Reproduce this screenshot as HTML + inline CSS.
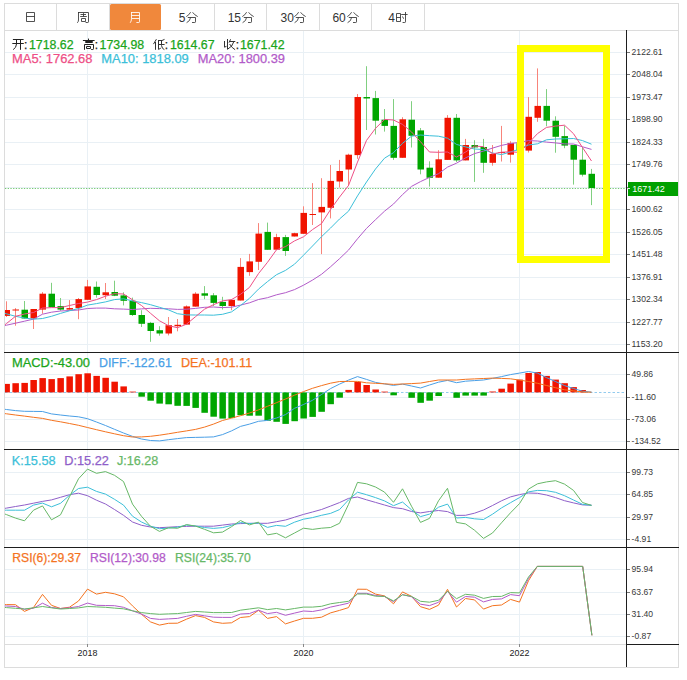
<!DOCTYPE html><html><head><meta charset="utf-8"><style>html,body{margin:0;padding:0;background:#fff;width:687px;height:680px;overflow:hidden}svg{display:block}</style></head><body><svg width="687" height="680" viewBox="0 0 687 680"><rect x="0" y="0" width="687" height="680" fill="#fff"/>
<path d="M5 52.5H626 M5 74.5H626 M5 97.5H626 M5 119.5H626 M5 142.5H626 M5 164.5H626 M5 187.5H626 M5 209.5H626 M5 232.5H626 M5 254.5H626 M5 277.5H626 M5 299.5H626 M5 322.5H626 M5 344.5H626 M5 374.5H626 M5 397.5H626 M5 419.5H626 M5 441.5H626 M5 472.5H626 M5 494.5H626 M5 517.5H626 M5 539.5H626 M5 569.5H626 M5 592.5H626 M5 614.5H626 M5 636.5H626 M87.5 31V644 M303.5 31V644 M519.5 31V644" stroke="#e9f0f5" stroke-width="1" fill="none"/>
<rect x="110" y="4" width="51" height="26" rx="1.5" fill="#f0883c"/>
<path d="M4 3.5H679 M4.5 3V668 M678.5 3V668 M4 667.5H679 M4 30.5H679 M56.5 3V30 M109.5 3V30 M214.5 3V30 M266.5 3V30 M319.5 3V30 M371.5 3V30 M424.5 3V30 M5 644.5H626" stroke="#dcdcdc" stroke-width="1" fill="none"/>
<defs><clipPath id="cp"><rect x="5" y="31" width="621" height="321"/></clipPath><clipPath id="cm"><rect x="5" y="353" width="621" height="96"/></clipPath><clipPath id="ck"><rect x="5" y="450" width="621" height="97"/></clipPath><clipPath id="cr"><rect x="5" y="548" width="621" height="96"/></clipPath></defs>
<path d="M5 188.5H626" stroke="#5cc05c" stroke-width="1" stroke-dasharray="1.3 1.4" fill="none" opacity="0.85"/>
<g clip-path="url(#cp)">
<rect x="6" y="301.3" width="1" height="15.6" fill="#f8847a"/>
<rect x="3.5" y="310.0" width="6.5" height="5.9" fill="#f01400"/>
<rect x="15" y="308.1" width="1" height="17.6" fill="#f8847a"/>
<rect x="12.5" y="309.5" width="6.5" height="1.0" fill="#f01400"/>
<rect x="24" y="301.0" width="1" height="17.5" fill="#80cf80"/>
<rect x="21.5" y="309.7" width="6.5" height="8.8" fill="#00a600"/>
<rect x="33" y="309.0" width="1" height="20.0" fill="#f8847a"/>
<rect x="30.5" y="309.0" width="6.5" height="9.5" fill="#f01400"/>
<rect x="42" y="292.1" width="1" height="21.6" fill="#f8847a"/>
<rect x="39.5" y="293.7" width="6.5" height="15.9" fill="#f01400"/>
<rect x="51" y="282.8" width="1" height="24.3" fill="#80cf80"/>
<rect x="48.5" y="293.7" width="6.5" height="13.4" fill="#00a600"/>
<rect x="60" y="298.0" width="1" height="12.8" fill="#80cf80"/>
<rect x="57.5" y="306.1" width="6.5" height="3.5" fill="#00a600"/>
<rect x="69" y="300.1" width="1" height="9.5" fill="#f8847a"/>
<rect x="66.5" y="308.1" width="6.5" height="1.5" fill="#f01400"/>
<rect x="78" y="298.0" width="1" height="21.2" fill="#f8847a"/>
<rect x="75.5" y="299.1" width="6.5" height="9.0" fill="#f01400"/>
<rect x="87" y="279.9" width="1" height="19.9" fill="#f8847a"/>
<rect x="84.5" y="286.4" width="6.5" height="13.4" fill="#f01400"/>
<rect x="96" y="281.5" width="1" height="16.1" fill="#80cf80"/>
<rect x="93.5" y="286.8" width="6.5" height="8.2" fill="#00a600"/>
<rect x="105" y="283.0" width="1" height="16.0" fill="#f8847a"/>
<rect x="102.5" y="292.3" width="6.5" height="2.9" fill="#f01400"/>
<rect x="114" y="280.7" width="1" height="15.4" fill="#80cf80"/>
<rect x="111.5" y="292.0" width="6.5" height="3.7" fill="#00a600"/>
<rect x="123" y="292.3" width="1" height="13.1" fill="#80cf80"/>
<rect x="120.5" y="295.4" width="6.5" height="5.4" fill="#00a600"/>
<rect x="132" y="297.6" width="1" height="18.4" fill="#80cf80"/>
<rect x="129.5" y="300.8" width="6.5" height="14.2" fill="#00a600"/>
<rect x="141" y="310.2" width="1" height="16.8" fill="#80cf80"/>
<rect x="138.5" y="315.0" width="6.5" height="8.8" fill="#00a600"/>
<rect x="150" y="321.9" width="1" height="19.9" fill="#80cf80"/>
<rect x="147.5" y="322.9" width="6.5" height="8.1" fill="#00a600"/>
<rect x="159" y="326.2" width="1" height="9.5" fill="#80cf80"/>
<rect x="156.5" y="330.2" width="6.5" height="3.3" fill="#00a600"/>
<rect x="168" y="317.0" width="1" height="18.4" fill="#f8847a"/>
<rect x="165.5" y="325.2" width="6.5" height="8.3" fill="#f01400"/>
<rect x="177" y="319.0" width="1" height="12.3" fill="#f8847a"/>
<rect x="174.5" y="324.8" width="6.5" height="1.4" fill="#f01400"/>
<rect x="186" y="305.4" width="1" height="19.2" fill="#f8847a"/>
<rect x="183.5" y="306.4" width="6.5" height="18.2" fill="#f01400"/>
<rect x="195" y="292.2" width="1" height="14.4" fill="#f8847a"/>
<rect x="192.5" y="293.7" width="6.5" height="12.9" fill="#f01400"/>
<rect x="204" y="286.1" width="1" height="13.1" fill="#80cf80"/>
<rect x="201.5" y="293.3" width="6.5" height="2.4" fill="#00a600"/>
<rect x="213" y="293.1" width="1" height="12.9" fill="#80cf80"/>
<rect x="210.5" y="295.3" width="6.5" height="7.6" fill="#00a600"/>
<rect x="222" y="296.8" width="1" height="12.7" fill="#80cf80"/>
<rect x="219.5" y="301.9" width="6.5" height="4.1" fill="#00a600"/>
<rect x="231" y="299.2" width="1" height="11.0" fill="#f8847a"/>
<rect x="228.5" y="299.9" width="6.5" height="6.1" fill="#f01400"/>
<rect x="240" y="258.1" width="1" height="42.4" fill="#f8847a"/>
<rect x="237.5" y="266.9" width="6.5" height="33.6" fill="#f01400"/>
<rect x="249" y="253.9" width="1" height="21.9" fill="#f8847a"/>
<rect x="246.5" y="261.4" width="6.5" height="10.7" fill="#f01400"/>
<rect x="258" y="223.1" width="1" height="46.9" fill="#f8847a"/>
<rect x="255.5" y="233.6" width="6.5" height="28.2" fill="#f01400"/>
<rect x="267" y="222.6" width="1" height="27.2" fill="#80cf80"/>
<rect x="264.5" y="231.9" width="6.5" height="17.9" fill="#00a600"/>
<rect x="276" y="233.8" width="1" height="15.9" fill="#f8847a"/>
<rect x="273.5" y="237.1" width="6.5" height="12.6" fill="#f01400"/>
<rect x="285" y="234.9" width="1" height="21.0" fill="#80cf80"/>
<rect x="282.5" y="237.1" width="6.5" height="13.9" fill="#00a600"/>
<rect x="294" y="232.7" width="1" height="3.8" fill="#f8847a"/>
<rect x="291.5" y="233.2" width="6.5" height="3.3" fill="#f01400"/>
<rect x="303" y="206.3" width="1" height="27.5" fill="#f8847a"/>
<rect x="300.5" y="212.9" width="6.5" height="20.9" fill="#f01400"/>
<rect x="312" y="183.1" width="1" height="41.9" fill="#f8847a"/>
<rect x="309.5" y="214.0" width="6.5" height="1.0" fill="#f01400"/>
<rect x="321" y="178.2" width="1" height="75.9" fill="#f8847a"/>
<rect x="318.5" y="206.9" width="6.5" height="5.5" fill="#f01400"/>
<rect x="330" y="165.0" width="1" height="53.4" fill="#f8847a"/>
<rect x="327.5" y="180.9" width="6.5" height="26.9" fill="#f01400"/>
<rect x="339" y="159.9" width="1" height="27.6" fill="#f8847a"/>
<rect x="336.5" y="171.0" width="6.5" height="10.5" fill="#f01400"/>
<rect x="348" y="153.7" width="1" height="32.3" fill="#f8847a"/>
<rect x="345.5" y="154.7" width="6.5" height="14.8" fill="#f01400"/>
<rect x="357" y="94.0" width="1" height="64.8" fill="#f8847a"/>
<rect x="354.5" y="97.0" width="6.5" height="58.1" fill="#f01400"/>
<rect x="366" y="66.2" width="1" height="63.8" fill="#80cf80"/>
<rect x="363.5" y="97.0" width="6.5" height="1.5" fill="#00a600"/>
<rect x="375" y="90.9" width="1" height="43.6" fill="#80cf80"/>
<rect x="372.5" y="98.1" width="6.5" height="22.6" fill="#00a600"/>
<rect x="384" y="109.0" width="1" height="22.6" fill="#80cf80"/>
<rect x="381.5" y="119.7" width="6.5" height="6.2" fill="#00a600"/>
<rect x="393" y="99.1" width="1" height="60.8" fill="#80cf80"/>
<rect x="390.5" y="125.9" width="6.5" height="31.9" fill="#00a600"/>
<rect x="402" y="117.2" width="1" height="40.6" fill="#f8847a"/>
<rect x="399.5" y="119.3" width="6.5" height="38.5" fill="#f01400"/>
<rect x="411" y="101.2" width="1" height="46.3" fill="#80cf80"/>
<rect x="408.5" y="119.7" width="6.5" height="16.1" fill="#00a600"/>
<rect x="420" y="128.0" width="1" height="46.3" fill="#80cf80"/>
<rect x="417.5" y="130.4" width="6.5" height="39.1" fill="#00a600"/>
<rect x="429" y="161.3" width="1" height="25.3" fill="#80cf80"/>
<rect x="426.5" y="167.7" width="6.5" height="10.1" fill="#00a600"/>
<rect x="438" y="150.2" width="1" height="27.5" fill="#f8847a"/>
<rect x="435.5" y="159.3" width="6.5" height="18.4" fill="#f01400"/>
<rect x="447" y="115.1" width="1" height="44.8" fill="#f8847a"/>
<rect x="444.5" y="117.8" width="6.5" height="42.1" fill="#f01400"/>
<rect x="456" y="114.0" width="1" height="48.0" fill="#80cf80"/>
<rect x="453.5" y="117.8" width="6.5" height="42.6" fill="#00a600"/>
<rect x="465" y="138.9" width="1" height="21.5" fill="#f8847a"/>
<rect x="462.5" y="145.0" width="6.5" height="15.4" fill="#f01400"/>
<rect x="474" y="140.2" width="1" height="41.7" fill="#80cf80"/>
<rect x="471.5" y="145.0" width="6.5" height="2.4" fill="#00a600"/>
<rect x="483" y="138.9" width="1" height="33.9" fill="#80cf80"/>
<rect x="480.5" y="147.0" width="6.5" height="15.8" fill="#00a600"/>
<rect x="492" y="145.0" width="1" height="20.7" fill="#f8847a"/>
<rect x="489.5" y="153.9" width="6.5" height="8.9" fill="#f01400"/>
<rect x="501" y="125.9" width="1" height="35.6" fill="#f8847a"/>
<rect x="498.5" y="152.0" width="6.5" height="1.0" fill="#f01400"/>
<rect x="510" y="141.2" width="1" height="21.4" fill="#f8847a"/>
<rect x="507.5" y="142.9" width="6.5" height="11.8" fill="#f01400"/>
<rect x="519" y="143.2" width="1" height="7.3" fill="#80cf80"/>
<rect x="516.5" y="143.2" width="6.5" height="7.3" fill="#00a600"/>
<rect x="528" y="97.1" width="1" height="55.4" fill="#f8847a"/>
<rect x="525.5" y="116.8" width="6.5" height="33.8" fill="#f01400"/>
<rect x="537" y="68.4" width="1" height="53.4" fill="#f8847a"/>
<rect x="534.5" y="105.9" width="6.5" height="11.9" fill="#f01400"/>
<rect x="546" y="89.1" width="1" height="37.1" fill="#80cf80"/>
<rect x="543.5" y="105.9" width="6.5" height="14.8" fill="#00a600"/>
<rect x="555" y="116.3" width="1" height="36.4" fill="#80cf80"/>
<rect x="552.5" y="120.7" width="6.5" height="16.1" fill="#00a600"/>
<rect x="564" y="125.7" width="1" height="22.5" fill="#80cf80"/>
<rect x="561.5" y="136.1" width="6.5" height="9.5" fill="#00a600"/>
<rect x="573" y="145.0" width="1" height="39.6" fill="#80cf80"/>
<rect x="570.5" y="144.9" width="6.5" height="14.8" fill="#00a600"/>
<rect x="582" y="147.1" width="1" height="29.4" fill="#80cf80"/>
<rect x="579.5" y="159.7" width="6.5" height="15.0" fill="#00a600"/>
<rect x="591" y="168.9" width="1" height="36.2" fill="#80cf80"/>
<rect x="588.5" y="173.8" width="6.5" height="14.2" fill="#00a600"/>
<polyline points="4.0,325.7 6.5,325.2 15.5,323.2 24.5,321.2 33.5,319.1 42.5,314.2 51.5,312.2 60.5,311.0 69.5,310.5 78.5,310.0 87.5,308.5 96.5,308.1 105.5,308.1 114.5,308.8 123.5,309.1 132.5,309.5 141.5,308.9 150.5,308.3 159.5,308.6 168.5,308.8 177.5,309.4 186.5,309.2 195.5,308.4 204.5,307.3 213.5,307.0 222.5,307.6 231.5,307.2 240.5,305.1 249.5,302.8 258.5,299.5 267.5,297.7 276.5,294.8 285.5,292.7 294.5,289.6 303.5,285.2 312.5,280.1 321.5,274.3 330.5,266.8 339.5,258.7 348.5,250.1 357.5,238.8 366.5,228.4 375.5,219.7 384.5,211.2 393.5,204.0 402.5,194.6 411.5,186.4 420.5,181.6 429.5,177.4 438.5,173.7 447.5,167.1 456.5,163.2 465.5,157.9 474.5,153.6 483.5,151.1 492.5,148.1 501.5,145.4 510.5,143.5 519.5,142.4 528.5,140.6 537.5,141.0 546.5,142.1 555.5,142.9 564.5,143.9 573.5,144.0 582.5,146.8 591.5,149.4" fill="none" stroke="#b25bc9" stroke-width="1.0" stroke-linejoin="round" />
<polyline points="4.0,313.0 6.5,313.8 15.5,316.3 24.5,318.0 33.5,319.2 42.5,318.5 51.5,316.3 60.5,313.4 69.5,310.8 78.5,308.5 87.5,305.1 96.5,303.6 105.5,301.9 114.5,299.6 123.5,298.8 132.5,300.9 141.5,302.6 150.5,304.7 159.5,307.3 168.5,309.9 177.5,313.7 186.5,314.9 195.5,315.0 204.5,315.0 213.5,315.2 222.5,314.3 231.5,311.9 240.5,305.5 249.5,298.3 258.5,289.1 267.5,281.6 276.5,274.7 285.5,270.4 294.5,264.2 303.5,255.2 312.5,246.0 321.5,236.7 330.5,228.1 339.5,219.0 348.5,211.2 357.5,195.9 366.5,182.0 375.5,169.0 384.5,158.2 393.5,152.7 402.5,143.3 411.5,136.2 420.5,135.0 429.5,135.7 438.5,136.2 447.5,138.2 456.5,144.4 465.5,146.9 474.5,149.0 483.5,149.5 492.5,153.0 501.5,154.6 510.5,151.9 519.5,149.2 528.5,145.0 537.5,143.8 546.5,139.8 555.5,139.0 564.5,138.8 573.5,138.5 582.5,140.6 591.5,144.2" fill="none" stroke="#3cbfd9" stroke-width="1.0" stroke-linejoin="round" />
<polyline points="4.0,325.5 6.5,323.5 15.5,316.3 24.5,314.0 33.5,312.5 42.5,308.1 51.5,307.6 60.5,307.6 69.5,305.5 78.5,303.5 87.5,302.1 96.5,299.6 105.5,296.2 114.5,293.7 123.5,294.0 132.5,299.8 141.5,305.5 150.5,313.3 159.5,320.8 168.5,325.7 177.5,327.7 186.5,324.2 195.5,316.7 204.5,309.2 213.5,304.7 222.5,300.9 231.5,299.6 240.5,294.3 249.5,287.4 258.5,273.6 267.5,262.3 276.5,249.8 285.5,246.6 294.5,240.9 303.5,236.8 312.5,229.6 321.5,223.6 330.5,209.6 339.5,197.1 348.5,185.5 357.5,162.1 366.5,140.4 375.5,128.4 384.5,119.4 393.5,120.0 402.5,124.4 411.5,131.9 420.5,141.7 429.5,152.0 438.5,152.3 447.5,152.0 456.5,157.0 465.5,152.1 474.5,146.0 483.5,146.7 492.5,153.9 501.5,152.2 510.5,151.8 519.5,152.4 528.5,143.2 537.5,133.6 546.5,127.4 555.5,126.1 564.5,125.2 573.5,133.7 582.5,147.5 591.5,161.0" fill="none" stroke="#ee4f86" stroke-width="1.0" stroke-linejoin="round" />
</g>
<g clip-path="url(#cm)">
<path d="M5 392.5H624" stroke="#92cbee" stroke-width="1" stroke-dasharray="2.5 2" fill="none"/>
<rect x="3.4" y="383.9" width="6.5" height="8.5" fill="#f01400"/>
<rect x="12.4" y="383.2" width="6.5" height="9.2" fill="#f01400"/>
<rect x="21.4" y="382.9" width="6.5" height="9.5" fill="#f01400"/>
<rect x="30.4" y="380.0" width="6.5" height="12.4" fill="#f01400"/>
<rect x="39.4" y="378.1" width="6.5" height="14.3" fill="#f01400"/>
<rect x="48.4" y="379.1" width="6.5" height="13.3" fill="#f01400"/>
<rect x="57.4" y="378.1" width="6.5" height="14.3" fill="#f01400"/>
<rect x="66.4" y="376.4" width="6.5" height="16.0" fill="#f01400"/>
<rect x="75.4" y="374.2" width="6.5" height="18.2" fill="#f01400"/>
<rect x="84.4" y="373.3" width="6.5" height="19.1" fill="#f01400"/>
<rect x="93.4" y="375.9" width="6.5" height="16.5" fill="#f01400"/>
<rect x="102.4" y="377.8" width="6.5" height="14.6" fill="#f01400"/>
<rect x="111.4" y="381.7" width="6.5" height="10.7" fill="#f01400"/>
<rect x="120.4" y="386.4" width="6.5" height="6.0" fill="#f01400"/>
<rect x="129.4" y="391.6" width="6.5" height="0.8" fill="#f01400"/>
<rect x="138.4" y="392.4" width="6.5" height="4.3" fill="#00a600"/>
<rect x="147.4" y="392.4" width="6.5" height="8.3" fill="#00a600"/>
<rect x="156.4" y="392.4" width="6.5" height="11.2" fill="#00a600"/>
<rect x="165.4" y="392.4" width="6.5" height="11.9" fill="#00a600"/>
<rect x="174.4" y="392.4" width="6.5" height="13.4" fill="#00a600"/>
<rect x="183.4" y="392.4" width="6.5" height="13.5" fill="#00a600"/>
<rect x="192.4" y="392.4" width="6.5" height="15.5" fill="#00a600"/>
<rect x="201.4" y="392.4" width="6.5" height="20.4" fill="#00a600"/>
<rect x="210.4" y="392.4" width="6.5" height="24.3" fill="#00a600"/>
<rect x="219.4" y="392.4" width="6.5" height="26.2" fill="#00a600"/>
<rect x="228.4" y="392.4" width="6.5" height="25.7" fill="#00a600"/>
<rect x="237.4" y="392.4" width="6.5" height="22.8" fill="#00a600"/>
<rect x="246.4" y="392.4" width="6.5" height="23.3" fill="#00a600"/>
<rect x="255.4" y="392.4" width="6.5" height="23.3" fill="#00a600"/>
<rect x="264.4" y="392.4" width="6.5" height="28.4" fill="#00a600"/>
<rect x="273.4" y="392.4" width="6.5" height="29.4" fill="#00a600"/>
<rect x="282.4" y="392.4" width="6.5" height="31.5" fill="#00a600"/>
<rect x="291.4" y="392.4" width="6.5" height="28.8" fill="#00a600"/>
<rect x="300.4" y="392.4" width="6.5" height="26.1" fill="#00a600"/>
<rect x="309.4" y="392.4" width="6.5" height="24.5" fill="#00a600"/>
<rect x="318.4" y="392.4" width="6.5" height="19.4" fill="#00a600"/>
<rect x="327.4" y="392.4" width="6.5" height="11.8" fill="#00a600"/>
<rect x="336.4" y="392.4" width="6.5" height="5.3" fill="#00a600"/>
<rect x="345.4" y="389.9" width="6.5" height="2.5" fill="#f01400"/>
<rect x="354.4" y="381.9" width="6.5" height="10.5" fill="#f01400"/>
<rect x="363.4" y="385.0" width="6.5" height="7.4" fill="#f01400"/>
<rect x="372.4" y="389.5" width="6.5" height="2.9" fill="#f01400"/>
<rect x="381.4" y="391.6" width="6.5" height="0.8" fill="#f01400"/>
<rect x="390.4" y="392.4" width="6.5" height="2.9" fill="#00a600"/>
<rect x="408.4" y="392.4" width="6.5" height="5.4" fill="#00a600"/>
<rect x="417.4" y="392.4" width="6.5" height="10.4" fill="#00a600"/>
<rect x="426.4" y="392.4" width="6.5" height="8.3" fill="#00a600"/>
<rect x="435.4" y="392.4" width="6.5" height="3.6" fill="#00a600"/>
<rect x="453.4" y="392.4" width="6.5" height="5.4" fill="#00a600"/>
<rect x="462.4" y="392.4" width="6.5" height="3.2" fill="#00a600"/>
<rect x="471.4" y="392.4" width="6.5" height="3.2" fill="#00a600"/>
<rect x="480.4" y="392.4" width="6.5" height="3.2" fill="#00a600"/>
<rect x="489.4" y="391.5" width="6.5" height="0.9" fill="#f01400"/>
<rect x="498.4" y="388.7" width="6.5" height="3.7" fill="#f01400"/>
<rect x="507.4" y="383.6" width="6.5" height="8.8" fill="#f01400"/>
<rect x="516.4" y="379.6" width="6.5" height="12.8" fill="#f01400"/>
<rect x="525.4" y="373.0" width="6.5" height="19.4" fill="#f01400"/>
<rect x="534.4" y="372.0" width="6.5" height="20.4" fill="#f01400"/>
<rect x="543.4" y="375.9" width="6.5" height="16.5" fill="#f01400"/>
<rect x="552.4" y="379.6" width="6.5" height="12.8" fill="#f01400"/>
<rect x="561.4" y="383.2" width="6.5" height="9.2" fill="#f01400"/>
<rect x="570.4" y="387.1" width="6.5" height="5.3" fill="#f01400"/>
<rect x="579.4" y="390.0" width="6.5" height="2.4" fill="#f01400"/>
<polyline points="4.0,409.2 6.5,409.5 15.5,410.6 24.5,411.3 33.5,411.4 42.5,411.5 51.5,413.9 60.5,415.0 69.5,416.0 78.5,416.8 87.5,418.7 96.5,422.0 105.5,425.5 114.5,429.3 123.5,433.0 132.5,436.4 141.5,439.0 150.5,440.5 159.5,440.9 168.5,439.7 177.5,438.6 186.5,437.6 195.5,437.4 204.5,437.2 213.5,436.9 222.5,434.6 231.5,430.9 240.5,426.4 249.5,424.1 258.5,421.3 267.5,420.4 276.5,418.0 285.5,414.6 294.5,408.3 303.5,404.5 312.5,400.3 321.5,394.5 330.5,388.6 339.5,384.1 348.5,380.1 357.5,376.6 366.5,379.4 375.5,382.4 384.5,383.9 393.5,385.4 402.5,384.1 411.5,386.0 420.5,388.0 429.5,385.0 438.5,382.2 447.5,380.4 456.5,382.7 465.5,381.2 474.5,380.6 483.5,380.0 492.5,378.4 501.5,376.6 510.5,374.6 519.5,373.1 528.5,371.5 537.5,373.1 546.5,377.6 555.5,381.5 564.5,385.6 573.5,388.5 582.5,391.2 591.5,392.1" fill="none" stroke="#4a9fe6" stroke-width="1.0" stroke-linejoin="round" />
<polyline points="4.0,413.5 6.5,413.8 15.5,415.0 24.5,416.1 33.5,417.3 42.5,418.4 51.5,420.3 60.5,421.8 69.5,423.5 78.5,425.3 87.5,427.5 96.5,429.7 105.5,431.8 114.5,433.8 123.5,435.7 132.5,437.0 141.5,436.9 150.5,436.3 159.5,435.2 168.5,433.8 177.5,432.3 186.5,430.9 195.5,429.4 204.5,427.1 213.5,424.1 222.5,420.5 231.5,418.1 240.5,415.7 249.5,413.0 258.5,409.9 267.5,406.3 276.5,402.7 285.5,399.0 294.5,395.2 303.5,391.6 312.5,388.3 321.5,385.6 330.5,383.2 339.5,381.5 348.5,381.4 357.5,381.4 366.5,382.8 375.5,383.3 384.5,383.8 393.5,384.4 402.5,384.0 411.5,383.6 420.5,383.1 429.5,381.5 438.5,380.0 447.5,380.0 456.5,380.0 465.5,379.3 474.5,378.9 483.5,378.5 492.5,378.1 501.5,378.4 510.5,378.8 519.5,380.1 528.5,381.5 537.5,383.3 546.5,385.5 555.5,387.7 564.5,389.8 573.5,390.9 582.5,392.0 591.5,392.2" fill="none" stroke="#f4731f" stroke-width="1.0" stroke-linejoin="round" />
</g>
<g clip-path="url(#ck)">
<polyline points="4.0,508.5 6.5,508.1 15.5,506.5 24.5,505.0 33.5,503.2 42.5,501.4 51.5,499.9 60.5,497.3 69.5,494.7 78.5,493.2 87.5,495.7 96.5,500.2 105.5,504.0 114.5,509.5 123.5,515.3 132.5,522.0 141.5,525.3 150.5,527.0 159.5,527.7 168.5,527.2 177.5,526.7 186.5,526.4 195.5,526.2 204.5,526.2 213.5,526.2 222.5,525.1 231.5,524.0 240.5,523.6 249.5,523.3 258.5,523.3 267.5,523.3 276.5,521.7 285.5,520.0 294.5,517.2 303.5,514.4 312.5,512.0 321.5,509.5 330.5,506.1 339.5,502.6 348.5,498.4 357.5,497.0 366.5,499.8 375.5,502.4 384.5,505.0 393.5,507.6 402.5,508.7 411.5,511.5 420.5,512.9 429.5,511.5 438.5,510.5 447.5,511.6 456.5,515.4 465.5,515.3 474.5,513.2 483.5,510.0 492.5,505.5 501.5,500.8 510.5,496.9 519.5,494.6 528.5,493.0 537.5,493.3 546.5,495.0 555.5,497.6 564.5,500.7 573.5,502.9 582.5,504.9 591.5,505.2" fill="none" stroke="#8f5fc9" stroke-width="1.0" stroke-linejoin="round" />
<polyline points="4.0,510.2 6.5,510.2 15.5,510.2 24.5,510.2 33.5,505.1 42.5,503.1 51.5,506.8 60.5,503.3 69.5,495.3 78.5,488.5 87.5,487.2 96.5,491.4 105.5,494.1 114.5,499.3 123.5,505.1 132.5,516.2 141.5,522.0 150.5,526.2 159.5,528.7 168.5,528.1 177.5,527.2 186.5,525.0 195.5,526.0 204.5,527.5 213.5,528.4 222.5,527.6 231.5,525.4 240.5,522.6 249.5,523.6 258.5,523.0 267.5,527.4 276.5,525.4 285.5,526.3 294.5,522.2 303.5,519.2 312.5,517.6 321.5,515.3 330.5,513.4 339.5,509.6 348.5,499.9 357.5,492.2 366.5,494.7 375.5,497.6 384.5,500.9 393.5,505.7 402.5,502.0 411.5,509.8 420.5,516.6 429.5,514.1 438.5,507.2 447.5,504.1 456.5,518.0 465.5,517.4 474.5,518.8 483.5,519.5 492.5,514.2 501.5,507.9 510.5,502.7 519.5,497.6 528.5,491.9 537.5,490.4 546.5,490.7 555.5,492.3 564.5,495.7 573.5,500.0 582.5,504.3 591.5,505.3" fill="none" stroke="#3cbfd9" stroke-width="1.0" stroke-linejoin="round" />
<polyline points="4.0,513.7 6.5,514.6 15.5,518.1 24.5,520.8 33.5,510.2 42.5,505.9 51.5,519.8 60.5,514.8 69.5,496.8 78.5,478.8 87.5,469.1 96.5,473.3 105.5,471.6 114.5,475.3 123.5,481.5 132.5,504.1 141.5,516.3 150.5,526.3 159.5,531.4 168.5,527.7 177.5,528.3 186.5,524.6 195.5,526.1 204.5,529.3 213.5,532.8 222.5,532.1 231.5,526.7 240.5,520.5 249.5,524.9 258.5,522.1 267.5,534.9 276.5,533.3 285.5,537.8 294.5,533.0 303.5,528.2 312.5,529.4 321.5,528.2 330.5,527.5 339.5,523.3 348.5,504.4 357.5,482.4 366.5,483.8 375.5,487.0 384.5,492.1 393.5,502.3 402.5,488.8 411.5,506.2 420.5,522.4 429.5,518.4 438.5,500.8 447.5,488.3 456.5,522.4 465.5,523.9 474.5,530.2 483.5,538.4 492.5,533.0 501.5,522.8 510.5,512.8 519.5,503.6 528.5,489.1 537.5,483.8 546.5,481.9 555.5,480.7 564.5,484.1 573.5,490.4 582.5,502.5 591.5,505.4" fill="none" stroke="#67b867" stroke-width="1.0" stroke-linejoin="round" />
</g>
<g clip-path="url(#cr)">
<polyline points="4.0,604.6 6.5,604.6 15.5,604.7 24.5,611.4 33.5,607.5 42.5,594.4 51.5,605.3 60.5,608.5 69.5,607.2 78.5,601.0 87.5,589.1 96.5,594.1 105.5,592.3 114.5,593.8 123.5,596.8 132.5,605.9 141.5,614.3 150.5,621.9 159.5,625.1 168.5,623.3 177.5,623.2 186.5,619.2 195.5,615.6 204.5,617.4 213.5,621.9 222.5,623.3 231.5,622.8 240.5,617.5 249.5,616.6 258.5,610.3 267.5,618.4 276.5,616.6 285.5,623.9 294.5,621.0 303.5,618.3 312.5,618.3 321.5,617.2 330.5,612.9 339.5,610.4 348.5,607.6 357.5,589.2 366.5,589.3 375.5,594.1 384.5,595.9 393.5,603.8 402.5,591.9 411.5,596.3 420.5,606.7 429.5,609.4 438.5,605.2 447.5,589.3 456.5,607.0 465.5,598.5 474.5,599.9 483.5,609.1 492.5,605.7 501.5,605.0 510.5,599.4 519.5,602.1 528.5,580.7 537.3,566.4 582.7,566.4 591.9,635.3" fill="none" stroke="#f4731f" stroke-width="1.0" stroke-linejoin="round" />
<polyline points="4.0,605.9 6.5,606.0 15.5,606.5 24.5,609.3 33.5,608.2 42.5,603.2 51.5,607.5 60.5,608.5 69.5,607.8 78.5,606.5 87.5,603.1 96.5,605.3 105.5,605.5 114.5,605.7 123.5,607.3 132.5,610.8 141.5,614.1 150.5,618.4 159.5,619.4 168.5,618.9 177.5,618.4 186.5,616.3 195.5,614.4 204.5,615.8 213.5,617.2 222.5,617.4 231.5,617.4 240.5,614.0 249.5,613.5 258.5,610.2 267.5,613.6 276.5,612.3 285.5,615.3 294.5,613.1 303.5,611.0 312.5,611.5 321.5,609.9 330.5,607.1 339.5,605.2 348.5,603.2 357.5,593.3 366.5,593.3 375.5,595.5 384.5,596.5 393.5,601.7 402.5,594.6 411.5,596.8 420.5,604.2 429.5,605.6 438.5,602.3 447.5,591.3 456.5,602.2 465.5,596.5 474.5,597.2 483.5,601.9 492.5,599.4 501.5,598.9 510.5,594.6 519.5,595.7 528.5,578.5 537.3,566.4 582.7,566.4 591.9,635.3" fill="none" stroke="#b25bc9" stroke-width="1.0" stroke-linejoin="round" />
<polyline points="4.0,607.4 6.5,607.6 15.5,608.3 24.5,609.0 33.5,607.8 42.5,606.5 51.5,607.8 60.5,609.0 69.5,608.5 78.5,607.9 87.5,606.5 96.5,606.9 105.5,607.3 114.5,608.1 123.5,608.8 132.5,610.8 141.5,612.6 150.5,613.6 159.5,614.3 168.5,613.9 177.5,613.6 186.5,612.5 195.5,611.4 204.5,612.0 213.5,612.6 222.5,612.6 231.5,612.5 240.5,610.2 249.5,609.0 258.5,607.8 267.5,609.6 276.5,608.5 285.5,609.9 294.5,608.5 303.5,607.1 312.5,607.1 321.5,606.3 330.5,603.8 339.5,602.5 348.5,601.3 357.5,594.0 366.5,594.0 375.5,596.2 384.5,596.4 393.5,600.9 402.5,594.8 411.5,596.4 420.5,601.3 429.5,602.2 438.5,600.3 447.5,591.3 456.5,598.7 465.5,594.3 474.5,595.2 483.5,598.4 492.5,596.5 501.5,596.4 510.5,592.6 519.5,592.9 528.5,577.0 537.3,566.4 582.7,566.4 591.9,635.3" fill="none" stroke="#67b867" stroke-width="1.0" stroke-linejoin="round" />
</g>
<path d="M4 352.5H679 M4 449.5H679 M4 547.5H679 M626.5 30V667 M626 644.5H679" stroke="#1e1e1e" stroke-width="1" fill="none"/>
<path d="M87.5 644V647 M303.5 644V647 M519.5 644V647" stroke="#888" stroke-width="1"/>
<path d="M627 52.5H630 M627 74.5H630 M627 97.5H630 M627 119.5H630 M627 142.5H630 M627 164.5H630 M627 187.5H630 M627 209.5H630 M627 232.5H630 M627 254.5H630 M627 277.5H630 M627 299.5H630 M627 322.5H630 M627 344.5H630 M627 374.5H630 M627 397.5H630 M627 419.5H630 M627 441.5H630 M627 472.5H630 M627 494.5H630 M627 517.5H630 M627 539.5H630 M627 569.5H630 M627 592.5H630 M627 614.5H630 M627 636.5H630" stroke="#777" stroke-width="1"/>
<text x="631.6" y="55.3" font-family="Liberation Sans, sans-serif" font-size="9.8" fill="#383838" textLength="31.04" lengthAdjust="spacingAndGlyphs">2122.61</text>
<text x="631.6" y="77.3" font-family="Liberation Sans, sans-serif" font-size="9.8" fill="#383838" textLength="31.04" lengthAdjust="spacingAndGlyphs">2048.04</text>
<text x="631.6" y="100.3" font-family="Liberation Sans, sans-serif" font-size="9.8" fill="#383838" textLength="31.04" lengthAdjust="spacingAndGlyphs">1973.47</text>
<text x="631.6" y="122.3" font-family="Liberation Sans, sans-serif" font-size="9.8" fill="#383838" textLength="31.04" lengthAdjust="spacingAndGlyphs">1898.90</text>
<text x="631.6" y="145.3" font-family="Liberation Sans, sans-serif" font-size="9.8" fill="#383838" textLength="31.04" lengthAdjust="spacingAndGlyphs">1824.33</text>
<text x="631.6" y="167.3" font-family="Liberation Sans, sans-serif" font-size="9.8" fill="#383838" textLength="31.04" lengthAdjust="spacingAndGlyphs">1749.76</text>
<text x="631.6" y="212.3" font-family="Liberation Sans, sans-serif" font-size="9.8" fill="#383838" textLength="31.04" lengthAdjust="spacingAndGlyphs">1600.62</text>
<text x="631.6" y="235.3" font-family="Liberation Sans, sans-serif" font-size="9.8" fill="#383838" textLength="31.04" lengthAdjust="spacingAndGlyphs">1526.05</text>
<text x="631.6" y="257.3" font-family="Liberation Sans, sans-serif" font-size="9.8" fill="#383838" textLength="31.04" lengthAdjust="spacingAndGlyphs">1451.48</text>
<text x="631.6" y="280.3" font-family="Liberation Sans, sans-serif" font-size="9.8" fill="#383838" textLength="31.04" lengthAdjust="spacingAndGlyphs">1376.91</text>
<text x="631.6" y="302.3" font-family="Liberation Sans, sans-serif" font-size="9.8" fill="#383838" textLength="31.04" lengthAdjust="spacingAndGlyphs">1302.34</text>
<text x="631.6" y="325.3" font-family="Liberation Sans, sans-serif" font-size="9.8" fill="#383838" textLength="31.04" lengthAdjust="spacingAndGlyphs">1227.77</text>
<text x="631.6" y="347.3" font-family="Liberation Sans, sans-serif" font-size="9.8" fill="#383838" textLength="31.04" lengthAdjust="spacingAndGlyphs">1153.20</text>
<text x="631.6" y="377.3" font-family="Liberation Sans, sans-serif" font-size="9.8" fill="#383838" textLength="21.49" lengthAdjust="spacingAndGlyphs">49.86</text>
<text x="631.6" y="400.3" font-family="Liberation Sans, sans-serif" font-size="9.8" fill="#383838" textLength="24.35" lengthAdjust="spacingAndGlyphs">-11.60</text>
<text x="631.6" y="422.3" font-family="Liberation Sans, sans-serif" font-size="9.8" fill="#383838" textLength="24.35" lengthAdjust="spacingAndGlyphs">-73.06</text>
<text x="631.6" y="444.3" font-family="Liberation Sans, sans-serif" font-size="9.8" fill="#383838" textLength="29.13" lengthAdjust="spacingAndGlyphs">-134.52</text>
<text x="631.6" y="475.3" font-family="Liberation Sans, sans-serif" font-size="9.8" fill="#383838" textLength="21.49" lengthAdjust="spacingAndGlyphs">99.73</text>
<text x="631.6" y="497.3" font-family="Liberation Sans, sans-serif" font-size="9.8" fill="#383838" textLength="21.49" lengthAdjust="spacingAndGlyphs">64.85</text>
<text x="631.6" y="520.3" font-family="Liberation Sans, sans-serif" font-size="9.8" fill="#383838" textLength="21.49" lengthAdjust="spacingAndGlyphs">29.97</text>
<text x="631.6" y="542.3" font-family="Liberation Sans, sans-serif" font-size="9.8" fill="#383838" textLength="19.58" lengthAdjust="spacingAndGlyphs">-4.91</text>
<text x="631.6" y="572.3" font-family="Liberation Sans, sans-serif" font-size="9.8" fill="#383838" textLength="21.49" lengthAdjust="spacingAndGlyphs">95.94</text>
<text x="631.6" y="595.3" font-family="Liberation Sans, sans-serif" font-size="9.8" fill="#383838" textLength="21.49" lengthAdjust="spacingAndGlyphs">63.67</text>
<text x="631.6" y="617.3" font-family="Liberation Sans, sans-serif" font-size="9.8" fill="#383838" textLength="21.49" lengthAdjust="spacingAndGlyphs">31.40</text>
<text x="631.6" y="639.3" font-family="Liberation Sans, sans-serif" font-size="9.8" fill="#383838" textLength="19.58" lengthAdjust="spacingAndGlyphs">-0.87</text>
<rect x="628" y="182" width="50" height="14" fill="#00a000"/>
<path d="M627 188.5H630" stroke="#e0f0e0" stroke-width="1"/>
<text x="632.3" y="192.2" font-family="Liberation Sans, sans-serif" font-size="9" fill="#fff">1671.42</text>
<text x="77.6" y="656.2" font-family="Liberation Sans, sans-serif" font-size="9.5" fill="#1a1a1a" textLength="19.8" lengthAdjust="spacingAndGlyphs">2018</text>
<text x="293.6" y="656.2" font-family="Liberation Sans, sans-serif" font-size="9.5" fill="#1a1a1a" textLength="19.8" lengthAdjust="spacingAndGlyphs">2020</text>
<text x="509.6" y="656.2" font-family="Liberation Sans, sans-serif" font-size="9.5" fill="#1a1a1a" textLength="19.8" lengthAdjust="spacingAndGlyphs">2022</text>
<rect x="520.5" y="48.5" width="86" height="211" fill="none" stroke="#ffff00" stroke-width="7"/>
<text x="29.0" y="49" font-family="Liberation Sans, sans-serif" font-size="12" fill="#1aa51a" stroke="#1aa51a" stroke-width="0.25" textLength="44.6" lengthAdjust="spacingAndGlyphs">1718.62</text>
<text x="99.6" y="49" font-family="Liberation Sans, sans-serif" font-size="12" fill="#1aa51a" stroke="#1aa51a" stroke-width="0.25" textLength="44.6" lengthAdjust="spacingAndGlyphs">1734.98</text>
<text x="170.0" y="49" font-family="Liberation Sans, sans-serif" font-size="12" fill="#1aa51a" stroke="#1aa51a" stroke-width="0.25" textLength="44.6" lengthAdjust="spacingAndGlyphs">1614.67</text>
<text x="240.0" y="49" font-family="Liberation Sans, sans-serif" font-size="12" fill="#1aa51a" stroke="#1aa51a" stroke-width="0.25" textLength="44.6" lengthAdjust="spacingAndGlyphs">1671.42</text>
<text x="24.1" y="49" font-family="Liberation Sans, sans-serif" font-size="12" fill="#222" stroke="#222" stroke-width="0.25">:</text>
<text x="94.7" y="49" font-family="Liberation Sans, sans-serif" font-size="12" fill="#222" stroke="#222" stroke-width="0.25">:</text>
<text x="164.8" y="49" font-family="Liberation Sans, sans-serif" font-size="12" fill="#222" stroke="#222" stroke-width="0.25">:</text>
<text x="235.7" y="49" font-family="Liberation Sans, sans-serif" font-size="12" fill="#222" stroke="#222" stroke-width="0.25">:</text>
<text x="12" y="63" font-family="Liberation Sans, sans-serif" font-size="12" fill="#ee4f86" stroke="#ee4f86" stroke-width="0.25" textLength="80.5" lengthAdjust="spacingAndGlyphs">MA5: 1762.68</text>
<text x="101.3" y="63" font-family="Liberation Sans, sans-serif" font-size="12" fill="#3cbfd9" stroke="#3cbfd9" stroke-width="0.25" textLength="87.5" lengthAdjust="spacingAndGlyphs">MA10: 1818.09</text>
<text x="197.8" y="63" font-family="Liberation Sans, sans-serif" font-size="12" fill="#b25bc9" stroke="#b25bc9" stroke-width="0.25" textLength="87.2" lengthAdjust="spacingAndGlyphs">MA20: 1800.39</text>
<text x="12" y="367" font-family="Liberation Sans, sans-serif" font-size="12" fill="#1aa51a" stroke="#1aa51a" stroke-width="0.25" textLength="78" lengthAdjust="spacingAndGlyphs">MACD:-43.00</text>
<text x="99" y="367" font-family="Liberation Sans, sans-serif" font-size="12" fill="#4a9fe6" stroke="#4a9fe6" stroke-width="0.25" textLength="72.8" lengthAdjust="spacingAndGlyphs">DIFF:-122.61</text>
<text x="181" y="367" font-family="Liberation Sans, sans-serif" font-size="12" fill="#f4731f" stroke="#f4731f" stroke-width="0.25" textLength="71.2" lengthAdjust="spacingAndGlyphs">DEA:-101.11</text>
<text x="11.8" y="465" font-family="Liberation Sans, sans-serif" font-size="12" fill="#3cbfd9" stroke="#3cbfd9" stroke-width="0.25" textLength="43.8" lengthAdjust="spacingAndGlyphs">K:15.58</text>
<text x="64.3" y="465" font-family="Liberation Sans, sans-serif" font-size="12" fill="#8f5fc9" stroke="#8f5fc9" stroke-width="0.25" textLength="44.6" lengthAdjust="spacingAndGlyphs">D:15.22</text>
<text x="117" y="465" font-family="Liberation Sans, sans-serif" font-size="12" fill="#67b867" stroke="#67b867" stroke-width="0.25" textLength="41.3" lengthAdjust="spacingAndGlyphs">J:16.28</text>
<text x="12.3" y="562" font-family="Liberation Sans, sans-serif" font-size="12" fill="#f4731f" stroke="#f4731f" stroke-width="0.25" textLength="68.8" lengthAdjust="spacingAndGlyphs">RSI(6):29.37</text>
<text x="90" y="562" font-family="Liberation Sans, sans-serif" font-size="12" fill="#b25bc9" stroke="#b25bc9" stroke-width="0.25" textLength="75.8" lengthAdjust="spacingAndGlyphs">RSI(12):30.98</text>
<text x="175" y="562" font-family="Liberation Sans, sans-serif" font-size="12" fill="#67b867" stroke="#67b867" stroke-width="0.25" textLength="75.8" lengthAdjust="spacingAndGlyphs">RSI(24):35.70</text>
<path transform="translate(26,12)" d="M0.5 0.5H8.5V9.5H0.5Z M0.5 4.5H8.5" fill="none" stroke="#333" stroke-width="0.85" stroke-linecap="butt"/>
<path transform="translate(77,12)" d="M1.5 0V8Q1.5 9.8 0.3 10.8 M1 0.5H11.5V9.8Q11.5 10.5 10.8 10.5H8.6 M3.5 2.5H9 M6.5 1.2V4.5 M3.2 4.5H9.8 M4.5 6.5H8.5V9.5H4.5Z" fill="none" stroke="#333" stroke-width="0.85" stroke-linecap="butt"/>
<path transform="translate(130,12)" d="M1.5 0V6.5Q1.5 9.3 0.2 10.8 M1 0.5H9.5V9.8Q9.5 10.5 8.8 10.5H6.4 M1.5 3.5H9.5 M1.5 6.5H9.5" fill="none" stroke="#fff" stroke-width="0.85" stroke-linecap="butt"/>
<text x="178.8" y="21.8" font-family="Liberation Sans, sans-serif" font-size="12" fill="#333">5</text>
<path transform="translate(186,12)" d="M4.6 0.2Q3.2 3 0.3 4.6 M6.6 0.3Q8.5 3 11.7 4.6 M1.8 5.5H9.5V9.8Q9.5 10.5 8.7 10.5H6 M4.5 5.6Q4.2 9 0.6 10.7" fill="none" stroke="#333" stroke-width="0.85" stroke-linecap="butt"/>
<text x="227.7" y="21.8" font-family="Liberation Sans, sans-serif" font-size="12" fill="#333">15</text>
<path transform="translate(242,12)" d="M4.6 0.2Q3.2 3 0.3 4.6 M6.6 0.3Q8.5 3 11.7 4.6 M1.8 5.5H9.5V9.8Q9.5 10.5 8.7 10.5H6 M4.5 5.6Q4.2 9 0.6 10.7" fill="none" stroke="#333" stroke-width="0.85" stroke-linecap="butt"/>
<text x="280.5" y="21.8" font-family="Liberation Sans, sans-serif" font-size="12" fill="#333">30</text>
<path transform="translate(294,12)" d="M4.6 0.2Q3.2 3 0.3 4.6 M6.6 0.3Q8.5 3 11.7 4.6 M1.8 5.5H9.5V9.8Q9.5 10.5 8.7 10.5H6 M4.5 5.6Q4.2 9 0.6 10.7" fill="none" stroke="#333" stroke-width="0.85" stroke-linecap="butt"/>
<text x="332.4" y="21.8" font-family="Liberation Sans, sans-serif" font-size="12" fill="#333">60</text>
<path transform="translate(347,12)" d="M4.6 0.2Q3.2 3 0.3 4.6 M6.6 0.3Q8.5 3 11.7 4.6 M1.8 5.5H9.5V9.8Q9.5 10.5 8.7 10.5H6 M4.5 5.6Q4.2 9 0.6 10.7" fill="none" stroke="#333" stroke-width="0.85" stroke-linecap="butt"/>
<text x="388.2" y="21.8" font-family="Liberation Sans, sans-serif" font-size="12" fill="#333">4</text>
<path transform="translate(396,12)" d="M0.5 1.5H4.5V9.5H0.5Z M0.5 5.5H4.5 M5.2 2.5H11.6 M9.5 0V9.8Q9.5 10.5 8.7 10.5H6.6 M6.5 4.5L7.6 6.7" fill="none" stroke="#333" stroke-width="0.85" stroke-linecap="butt"/>
<path transform="translate(12,39)" d="M0.9 0.5H11.6 M0.3 4.5H11.8 M4.5 0V5Q4.3 8.8 1.2 10.6 M8.5 0V10.8" fill="none" stroke="#222" stroke-width="1.0" stroke-linecap="butt"/>
<path transform="translate(82,39)" d="M6.5 -0.4V1 M0.9 1.5H12.6 M3.5 2.5H10.5V3.5H3.5Z M2.5 10.8V5.5H11.5V9.8Q11.5 10.5 10.8 10.5H9.2 M4.5 7.5H8.5V9.5H4.5Z" fill="none" stroke="#222" stroke-width="1.0" stroke-linecap="butt"/>
<path transform="translate(152,39)" d="M4.4 0.2L1.5 5.1 M3.5 3V10.8 M6 1.5H10L12.5 0.4 M6.5 1.5V10.4L8.8 9.2 M6 5.5H12.6 M9.5 1.5V6.5Q10 10 12.4 10.6" fill="none" stroke="#333" stroke-width="1.0" stroke-linecap="butt"/>
<path transform="translate(222,39)" d="M2.5 2V8.2L4.5 7.3 M5.5 0V10.2 M8.6 0.3L7 3.6 M8 2.5H13.3 M11.9 2.5Q10.6 7.6 5.4 10.4 M7.6 5Q10 9 13.1 10.7" fill="none" stroke="#333" stroke-width="1.0" stroke-linecap="butt"/></svg></body></html>
